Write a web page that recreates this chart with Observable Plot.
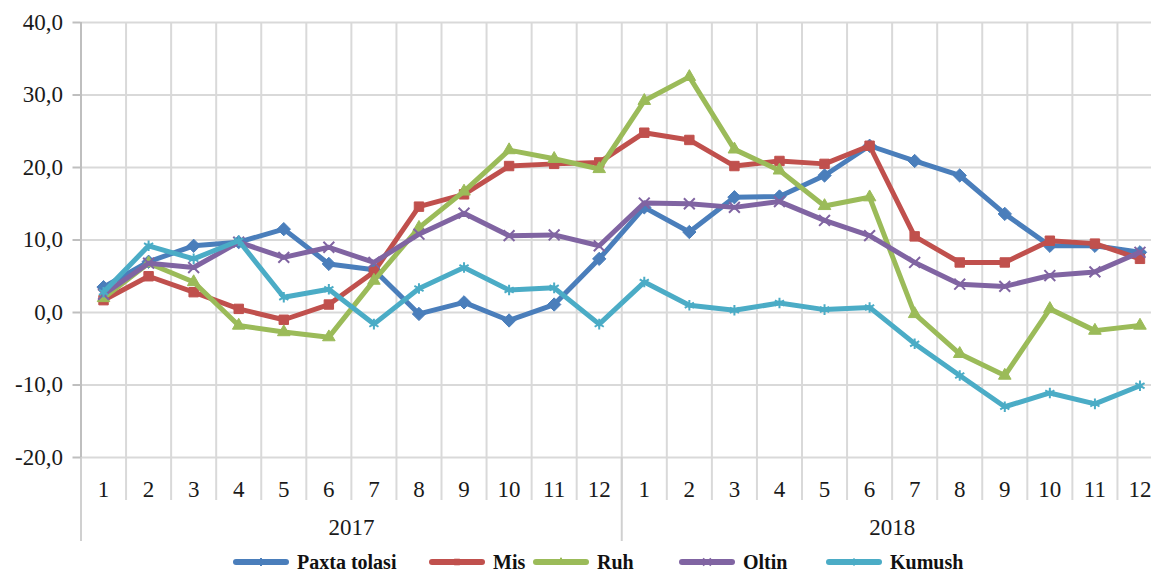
<!DOCTYPE html>
<html>
<head>
<meta charset="utf-8">
<script src="https://cdn.jsdelivr.net/npm/d3@7"></script>
<script src="https://cdn.jsdelivr.net/npm/@observablehq/plot@0.6"></script>
<style>
  html, body { margin: 0; padding: 0; background: #fff; overflow: hidden; width: 1151px; height: 571px; position: relative; }
  #chart svg { display: block; max-width: none !important; }
  #chart svg text { font-family: "Liberation Serif", "Times New Roman", serif !important; fill: #1a1a1a; }
  #legend { position: absolute; left: 0; top: 550px; width: 1151px; height: 24px; font-family: "Liberation Serif", "Times New Roman", serif; font-weight: bold; font-size: 20px; color: #111; }
  .item { position: absolute; top: 0; display: flex; align-items: center; height: 24px; white-space: nowrap; }
  .item svg { margin-right: 8px; }
</style>
</head>
<body>
<div id="chart"></div>
<div id="legend"></div>
<script>
// ---- data ----
const months = ["1","2","3","4","5","6","7","8","9","10","11","12"];
const years = ["2017", "2018"];
const seriesNames = ["Paxta tolasi", "Mis", "Ruh", "Oltin", "Kumush"];
const paxtaTolasi = [3.5, 7.0, 9.2, 9.7, 11.5, 6.7, 5.9, -0.2, 1.4, -1.1, 1.1, 7.4,
                     14.5, 11.1, 15.9, 16.0, 18.9, 23.0, 20.9, 18.9, 13.6, 9.2, 9.2, 8.3];
const mis = [1.7, 5.0, 2.8, 0.5, -1.0, 1.1, 5.6, 14.6, 16.3, 20.2, 20.5, 20.7,
             24.8, 23.8, 20.2, 20.9, 20.5, 23.0, 10.5, 6.9, 6.9, 9.9, 9.5, 7.4];
const ruh = [2.0, 6.8, 4.2, -1.8, -2.7, -3.4, 4.4, 11.7, 16.7, 22.4, 21.2, 19.8,
             29.2, 32.5, 22.5, 19.6, 14.7, 15.9, -0.2, -5.7, -8.7, 0.5, -2.5, -1.8];
const oltin = [2.5, 6.8, 6.2, 9.7, 7.6, 9.0, 6.9, 10.8, 13.7, 10.6, 10.7, 9.2,
               15.1, 15.0, 14.5, 15.3, 12.7, 10.6, 6.9, 3.9, 3.6, 5.1, 5.6, 8.3];
const kumush = [2.8, 9.2, 7.4, 9.9, 2.1, 3.2, -1.6, 3.3, 6.2, 3.1, 3.4, -1.6,
                4.2, 1.0, 0.3, 1.3, 0.4, 0.7, -4.3, -8.7, -13.0, -11.1, -12.6, -10.1];
const yTicks = [-20, -10, 0, 10, 20, 30, 40];

// ---- styles ----
const colors = ["#4A7EBB", "#C0504D", "#9BBB59", "#8064A2", "#4BACC6"];
const symbols = ["diamond2", "square2", "triangle2", "times", "asterisk"];
const filled = [true, true, true, false, false];
const legendTextX = [297, 493, 597, 743, 890];
const valuesList = [paxtaTolasi, mis, ruh, oltin, kumush];

const idx = d3.range(months.length * years.length);
const data = seriesNames.flatMap((s, k) => valuesList[k].map((v, i) => ({series: s, i, v})));
const bounds = d3.range(idx.length + 1).map(i => i - 0.5);
const fmt = d => d.toFixed(1).replace(".", ",");
const blank = () => "";

const H = 545;
const lineMarks = seriesNames.flatMap((s, k) => {
  const sub = data.filter(d => d.series === s);
  return [
    Plot.line(sub, {x: "i", y: "v", stroke: colors[k], strokeWidth: 5, strokeLinejoin: "round"}),
    Plot.dot(sub, {x: "i", y: "v", symbol: () => symbols[k], r: filled[k] ? 6 : 5,
      fill: filled[k] ? colors[k] : "none", stroke: colors[k], strokeWidth: filled[k] ? 1 : 2})
  ];
});

const chart = Plot.plot({
  width: 1162,
  height: H,
  marginLeft: 80.5,
  marginRight: 0,
  marginTop: 22,
  marginBottom: H - 457,
  style: {background: "#fff"},
  x: {domain: [-0.5, idx.length - 0.5]},
  y: {domain: [-20, 40]},
  symbol: {type: "identity"},
  marks: [
    Plot.ruleY(yTicks, {stroke: "#d9d9d9", strokeWidth: 2}),
    Plot.gridX({ticks: bounds, stroke: "#d9d9d9", strokeWidth: 2, strokeOpacity: 1}),
    // extension of band boundaries through the month labels
    Plot.axisX({ticks: bounds, tickSize: 43, tickFormat: blank, stroke: "#d9d9d9", strokeWidth: 2, label: null}),
    // year separators / left frame
    Plot.axisX({ticks: [-0.5, 11.5], tickSize: 84, tickFormat: blank, stroke: "#d0d0d0", strokeWidth: 2, label: null}),
    Plot.ruleX([-0.5], {stroke: "#bfbfbf", strokeWidth: 2}),
    Plot.axisY({ticks: yTicks, tickSize: 8, tickPadding: 10, tickFormat: fmt, stroke: "#bfbfbf", strokeWidth: 2, label: null, fontSize: 23}),
    Plot.axisX({ticks: idx, tickSize: 0, tickPadding: 23, tickFormat: i => months[i % 12], label: null, fontSize: 23}),
    Plot.axisX({ticks: [5.5, 17.5], tickSize: 0, tickPadding: 61, tickFormat: t => years[Math.floor(t / 12)], label: null, fontSize: 23}),
    ...lineMarks
  ]
});
document.getElementById("chart").appendChild(chart);

// ---- legend ----
const legend = d3.select("#legend");
const symMap = {diamond2: d3.symbolDiamond2, square2: d3.symbolSquare2, triangle2: d3.symbolTriangle2, times: d3.symbolTimes, asterisk: d3.symbolAsterisk};
seriesNames.forEach((s, k) => {
  const item = legend.append("div").attr("class", "item").style("left", (legendTextX[k] - 64) + "px");
  const sw = item.append("svg").attr("width", 56).attr("height", 14);
  sw.append("line").attr("x1", 3).attr("x2", 53).attr("y1", 7).attr("y2", 7)
    .attr("stroke", colors[k]).attr("stroke-width", 6).attr("stroke-linecap", "round");
  sw.append("path").attr("transform", "translate(28,7)")
    .attr("d", d3.symbol(symMap[symbols[k]], 40)())
    .attr("fill", filled[k] ? colors[k] : "none").attr("stroke", colors[k]).attr("stroke-width", filled[k] ? 1 : 1.5);
  item.append("span").text(s);
});
</script>
</body>
</html>
